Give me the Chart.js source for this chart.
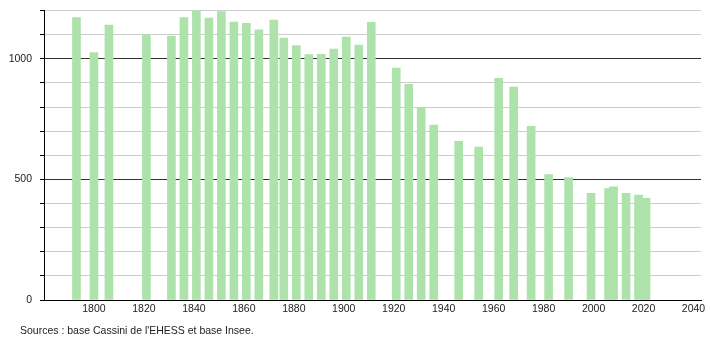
<!DOCTYPE html>
<html>
<head>
<meta charset="utf-8">
<script src="https://cdn.jsdelivr.net/npm/chart.js@4/dist/chart.umd.min.js"></script>
<style>
  body { margin: 0; background: #fff; }
  #wrap { position: relative; width: 710px; height: 340px; }
  #source {
    position: absolute; left: 20px; top: 324px;
    font: 10.5px "Liberation Sans", Arial, sans-serif; color: #222;
  }
</style>
</head>
<body>
<div id="wrap">
  <canvas id="popChart" width="710" height="340"></canvas>
  <div id="source">Sources : base Cassini de l'EHESS et base Insee.</div>
</div>
<script>
// census years and population
const years = [1793, 1800, 1806, 1821, 1831, 1836, 1841, 1846, 1851, 1856, 1861, 1866, 1872, 1876, 1881, 1886, 1891, 1896, 1901, 1906, 1911, 1921, 1926, 1931, 1936, 1946, 1954, 1962, 1968, 1975, 1982, 1990, 1999, 2006, 2008, 2013, 2018, 2021]
const population = [1171, 1026, 1140, 1099, 1094, 1171, 1203, 1169, 1196, 1152, 1147, 1120, 1160, 1086, 1055, 1017, 1018, 1040, 1090, 1057, 1151, 961, 894, 798, 725, 658, 634, 919, 883, 720, 520, 507, 442, 462, 469, 442, 435, 421]
const xTicks = [1800, 1820, 1840, 1860, 1880, 1900, 1920, 1940, 1960, 1980, 2000, 2020, 2040]
const yLabels = [0, 500, 1000]

const points = years.map((yr, i) => ({ x: yr, y: population[i] }))

new Chart(document.getElementById('popChart'), {
  type: 'bar',
  data: {
    datasets: [{
      data: points,
      backgroundColor: '#ade3ab',
      barThickness: 8,
      borderWidth: 0
    }]
  },
  options: {
    responsive: false,
    animation: false,
    layout: { padding: { top: 10.5, right: 9, left: 0, bottom: 0 } },
    plugins: { legend: { display: false }, tooltip: { enabled: false } },
    scales: {
      x: {
        type: 'linear',
        offset: false,
        min: 1780,
        max: 2043,
        afterBuildTicks: (scale) => { scale.ticks = xTicks.map(v => ({ value: v })) },
        afterFit: (scale) => {
          scale.height = 40
          scale.paddingLeft = 0
          scale.paddingRight = 0
        },
        grid: { display: false, drawTicks: false, offset: false },
        border: { display: true, color: '#000', width: 1 },
        ticks: {
          padding: 3,
          color: '#222',
          font: { family: 'Liberation Sans', size: 10.5 },
          maxRotation: 0,
          callback: (v) => String(v)
        }
      },
      y: {
        min: 0,
        max: 1200,
        afterBuildTicks: (scale) => {
          const t = []
          for (let v = 0; v <= 1200; v += 100) t.push({ value: v })
          scale.ticks = t
        },
        afterFit: (scale) => {
          scale.width = 44
          scale.paddingTop = 0
          scale.paddingBottom = 0
        },
        grid: {
          color: (ctx) => (ctx.tick && ctx.tick.value % 500 === 0) ? '#333' : '#ccc',
          tickColor: '#000',
          tickLength: 4
        },
        border: { display: true, color: '#000', width: 1 },
        ticks: {
          padding: 8,
          color: '#222',
          font: { family: 'Liberation Sans', size: 10.5 },
          callback: (v) => yLabels.includes(v) ? String(v) : ''
        }
      }
    }
  }
})
</script>
</body>
</html>
